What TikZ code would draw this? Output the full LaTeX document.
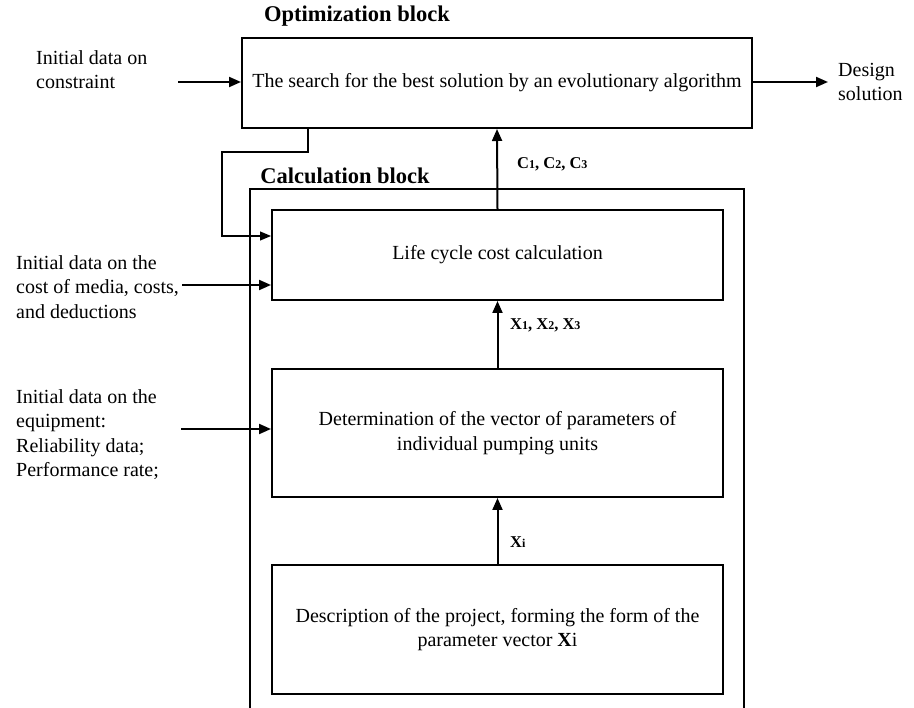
\documentclass[tikz,border=0pt]{standalone}
\usepackage{fontspec}
\setmainfont{Liberation Serif}
\usetikzlibrary{arrows.meta}
\newcommand\smdig[1]{{\fontsize{12}{13}\selectfont\bfseries #1}}
\begin{document}
\begin{tikzpicture}[x=1pt,y=-1pt,
  txt/.style={font=\fontsize{20}{24.5}\selectfont, inner sep=0pt},
  ttl/.style={font=\fontsize{22.5}{26}\selectfont\bfseries, inner sep=0pt},
  lbl/.style={font=\fontsize{16.5}{18}\selectfont\bfseries, inner sep=0pt, anchor=west},
  blk/.style={draw, line width=2pt, rectangle, inner sep=0pt, align=center,
              font=\fontsize{20}{24.5}\selectfont},
  arr/.style={line width=2pt, -{Triangle[length=12pt,width=10pt]}},
  thinarr/.style={line width=1.1pt, -{Triangle[length=11pt,width=9pt]}}
]
\useasboundingbox (0,0) rectangle (914,708);
\fill[white] (0,0) rectangle (914,708);

% titles
\node[ttl] (optt) at (357,16) {Optimization block};
\node[ttl] (calct) at (345,176) {Calculation block};

% outer calculation block (open at the bottom)
\coordinate (cbl) at (250,708);
\coordinate (ctl) at (250,189);
\coordinate (ctr) at (744,189);
\coordinate (cbr) at (744,708);
\draw[line width=2pt] (cbl) -- (ctl) -- (ctr) -- (cbr);

% boxes
\node[blk, minimum width=510pt, minimum height=90pt] (opt) at (497,83)
  {The search for the best solution by an evolutionary algorithm};
\node[blk, minimum width=451pt, minimum height=90pt] (life) at (497.5,255)
  {Life cycle cost calculation};
\node[blk, minimum width=451pt, minimum height=128pt] (det) at (497.5,433)
  {Determination of the vector of parameters of\\individual pumping units};
\node[blk, minimum width=451pt, minimum height=129pt] (desc) at (497.5,629.5)
  {Description of the project, forming the form of the\\parameter vector \textbf{X}i};

% left texts
\node[txt, align=left, anchor=west] (cons) at (36,69.5) {Initial data on\\constraint};
\node[txt, align=left, anchor=west] (cost) at (16,287) {Initial data on the\\cost of media, costs,\\and deductions};
\node[txt, align=left, anchor=west] (equip) at (16,434.5) {Initial data on the\\equipment:\\Reliability data;\\Performance rate;};
\node[txt, align=left, anchor=west] (des) at (838,82) {Design\\solution};

% input arrows
\coordinate (consS) at (178,82);
\draw[arr] (consS) -- (consS -| opt.west);
\coordinate (costS) at (182,285);
\draw[arr] (costS) -- (costS -| life.west);
\coordinate (equipS) at (181,429);
\draw[arr] (equipS) -- (equipS -| det.west);

% output arrow
\coordinate (outE) at (828,82);
\draw[arr] (opt.east |- outE) -- (outE);

% feedback line
\coordinate (fb1) at (308,152);
\coordinate (fb2) at (222,152);
\coordinate (fb3) at (222,236);
\draw[thinarr] (opt.south -| fb1) -- (fb1) -- (fb2) -- (fb3) -- (fb3 -| life.west);

% vertical arrows
\draw[arr] (life.north) -- (opt.south);
\draw[arr] (det.north) -- (life.south);
\draw[arr] (desc.north) -- (det.south);

% labels
\node[lbl] (cl) at (517,164) {C\smdig{1}, C\smdig{2}, C\smdig{3}};
\node[lbl] (xl) at (510,325) {X\smdig{1}, X\smdig{2}, X\smdig{3}};
\node[lbl] (xil) at (510,542) {X\smdig{i}};
\end{tikzpicture}
\end{document}
